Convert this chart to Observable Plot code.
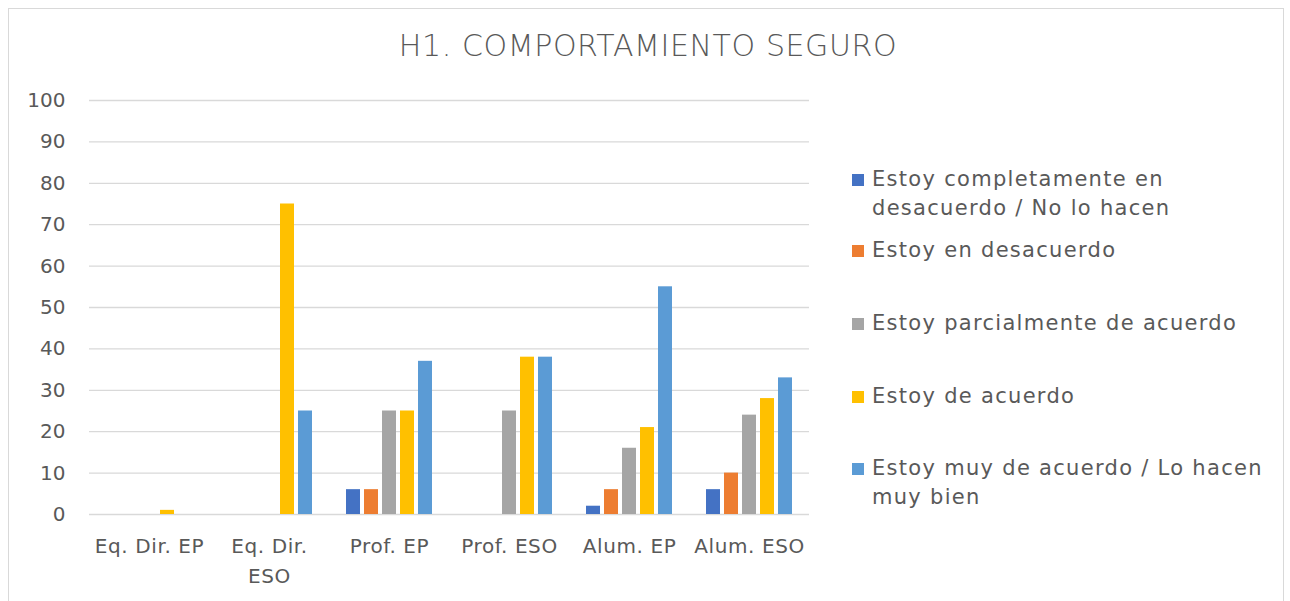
<!DOCTYPE html>
<html>
<head>
<meta charset="utf-8">
<script src="https://cdn.jsdelivr.net/npm/d3@7"></script>
<script src="https://cdn.jsdelivr.net/npm/@observablehq/plot@0.6"></script>
<style>
  html, body { margin: 0; padding: 0; background: #fff; }
  #wrap { position: relative; width: 1290px; height: 601px; overflow: hidden; font-family: "DejaVu Sans", sans-serif; color: #595959; }
  #frame { position: absolute; left: 8px; top: 8px; width: 1276px; height: 600px; border: 1px solid #d9d9d9; box-sizing: border-box; }
  #title { position: absolute; left: 0; width: 1296px; top: 28px; text-align: center; font-size: 30px; font-weight: 200; letter-spacing: 0.6px; }
  #chart { position: absolute; left: 0; top: 0; }
  .leg { position: absolute; left: 852px; font-size: 21px; line-height: 29px; letter-spacing: 1.3px; }
  .leg .sw { position: absolute; left: 0; top: 9px; width: 12px; height: 12px; }
  .leg .tx { position: absolute; left: 20px; white-space: nowrap; }
  #chart svg g[aria-label="fx-axis tick label"] text { letter-spacing: 0.6px; }
</style>
</head>
<body>
<div id="wrap">
  <div id="frame"></div>
  <div id="chart"></div>
  <div id="title"></div>
  <div id="legend"></div>
</div>
<script>
const title = "H1. COMPORTAMIENTO SEGURO";
const categories = ["Eq. Dir. EP", "Eq. Dir. ESO", "Prof. EP", "Prof. ESO", "Alum. EP", "Alum. ESO"];
const categoryLabels = ["Eq. Dir. EP", "Eq. Dir.\nESO", "Prof. EP", "Prof. ESO", "Alum. EP", "Alum. ESO"];
const seriesNames = [
  "Estoy completamente en desacuerdo / No lo hacen",
  "Estoy en desacuerdo",
  "Estoy parcialmente de acuerdo",
  "Estoy de acuerdo",
  "Estoy muy de acuerdo / Lo hacen muy bien"
];
const legendLines = [
  ["Estoy completamente en", "desacuerdo / No lo hacen"],
  ["Estoy en desacuerdo"],
  ["Estoy parcialmente de acuerdo"],
  ["Estoy de acuerdo"],
  ["Estoy muy de acuerdo / Lo hacen", "muy bien"]
];
const seriesColors = ["#4472C4", "#ED7D31", "#A5A5A5", "#FFC000", "#5B9BD5"];
const completamenteDesacuerdo = [0, 0, 6, 0, 2, 6];
const desacuerdo = [0, 0, 6, 0, 6, 10];
const parcialmente = [0, 0, 25, 25, 16, 24];
const deAcuerdo = [1, 75, 25, 38, 21, 28];
const muyDeAcuerdo = [0, 25, 37, 38, 55, 33];
const yTicks = [0, 10, 20, 30, 40, 50, 60, 70, 80, 90, 100];

const seriesValues = [completamenteDesacuerdo, desacuerdo, parcialmente, deAcuerdo, muyDeAcuerdo];
const data = [];
categories.forEach((c, i) => {
  seriesNames.forEach((s, j) => data.push({category: c, series: s, value: seriesValues[j][i]}));
});

document.getElementById("title").textContent = title;

const chart = Plot.plot({
  width: 1290,
  height: 601,
  marginLeft: 88,
  marginRight: 480,
  marginTop: 100,
  marginBottom: 87,
  style: {fontFamily: "'DejaVu Sans', sans-serif", fontSize: "20px", color: "#595959", background: "transparent"},
  fx: {domain: categories, padding: 0, label: null, axis: null},
  x: {domain: seriesNames, paddingInner: 0.2, paddingOuter: 0.82, axis: null},
  y: {domain: [0, 100], ticks: yTicks, label: null, grid: false},
  color: {domain: seriesNames, range: seriesColors},
  marks: [
    Plot.ruleY(yTicks, {stroke: "#d9d9d9", strokeWidth: 1.3}),
    Plot.barY(data, {fx: "category", x: "series", y: "value", fill: "series"}),
    Plot.axisY({ticks: yTicks, tickSize: 0, tickPadding: 24, fontSize: 20, fill: "#595959", label: null}),
    Plot.axisFx({
      anchor: "bottom",
      tickSize: 0, tickPadding: 17, fontSize: 20, fill: "#595959", label: null,
      lineHeight: 1.5,
      tickFormat: (d) => categoryLabels[categories.indexOf(d)]
    })
  ]
});
document.getElementById("chart").appendChild(chart);

const legendTops = [165, 236, 309, 382, 454];
const legend = document.getElementById("legend");
seriesNames.forEach((s, i) => {
  const item = document.createElement("div");
  item.className = "leg";
  item.style.top = legendTops[i] + "px";
  const sw = document.createElement("div");
  sw.className = "sw";
  sw.style.background = seriesColors[i];
  const tx = document.createElement("div");
  tx.className = "tx";
  tx.innerHTML = legendLines[i].join("<br>");
  item.appendChild(sw);
  item.appendChild(tx);
  legend.appendChild(item);
});
</script>
</body>
</html>
